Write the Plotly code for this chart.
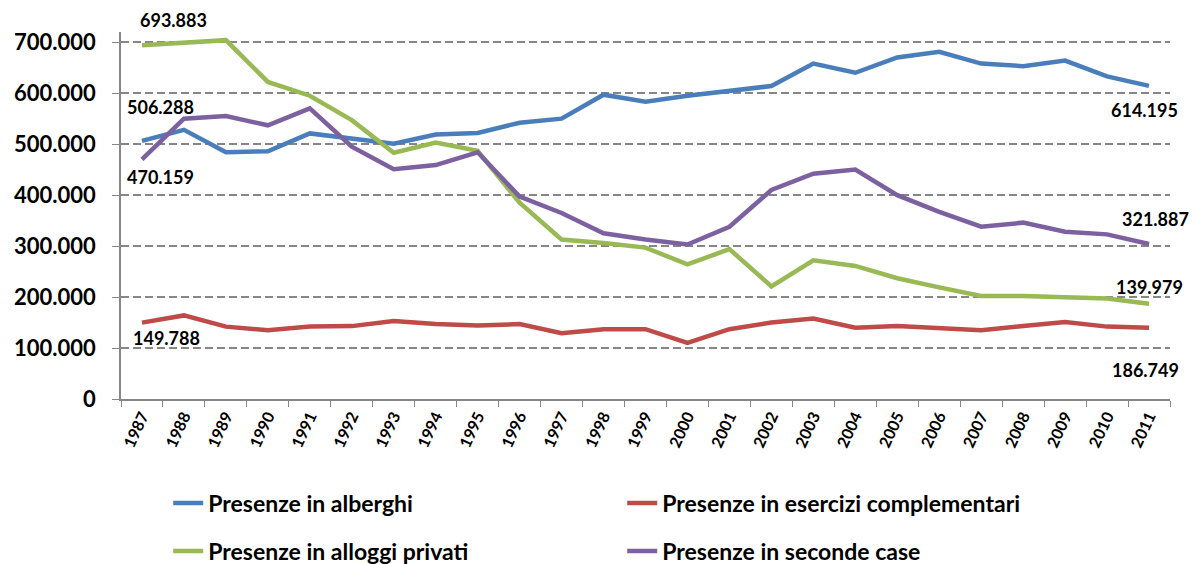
import plotly.graph_objects as go

years = [str(y) for y in range(1987, 2012)]

alberghi = [506288, 528000, 484000, 486000, 521000, 511000, 501000, 519000, 522000, 542000,
            550000, 597000, 583000, 595000, 605000, 614000, 658000, 640000, 670000, 681000,
            658000, 653000, 664000, 633000, 614195]
esercizi = [149788, 164000, 142000, 135000, 142000, 143000, 153000, 147000, 144000, 147000,
            129000, 137000, 137000, 110000, 137000, 150000, 158000, 140000, 143000, 140000,
            135000, 143000, 151000, 142000, 139979]
alloggi = [693883, 699000, 704000, 622000, 595000, 547000, 483000, 503000, 487000, 385000,
           313000, 306000, 297000, 264000, 294000, 221000, 272000, 261000, 237000, 219000,
           202000, 202000, 200000, 197000, 186749]
seconde = [470159, 550000, 555000, 537000, 570000, 495000, 451000, 459000, 484000, 397000,
           365000, 325000, 313000, 303000, 338000, 410000, 442000, 450000, 400000, 367000,
           338000, 346000, 328000, 323000, 304000]

series_names = ["Presenze in alberghi", "Presenze in esercizi complementari",
                "Presenze in alloggi privati", "Presenze in seconde case"]

y_tickvals = [0, 100000, 200000, 300000, 400000, 500000, 600000, 700000]
y_ticktext = ["0", "100.000", "200.000", "300.000", "400.000", "500.000", "600.000", "700.000"]

# data labels: (text, series index, point index)
label_texts = ["693.883", "506.288", "470.159", "149.788", "614.195", "321.887", "139.979", "186.749"]
label_series = [2, 0, 3, 1, 0, 3, 2, 1]
label_points = [0, 0, 0, 0, 24, 24, 24, 24]

colors = ["#4A7EBB", "#BE4B48", "#98B954", "#7D60A0"]
FONT = "Lato"

data = [alberghi, esercizi, alloggi, seconde]
legends = ["legend", "legend", "legend2", "legend2"]

fig = go.Figure()
for i in range(4):
    fig.add_trace(go.Scatter(
        x=years, y=data[i], mode="lines", name=series_names[i],
        line=dict(color=colors[i], width=4.5), legend=legends[i],
        hoverinfo="x+y+name"))

# label offsets (style)
offsets = [(32, 25), (19, 34), (19, -18), (25, -15), (-5, -24), (6, 25), (0, 17), (-4, -42)]
for t, s, p, (dx, dy) in zip(label_texts, label_series, label_points, offsets):
    fig.add_annotation(x=p, y=data[s][p], text=t, showarrow=False,
                       xref="x", yref="y",
                       xshift=dx, yshift=dy,
                       font=dict(family=FONT, size=18, color="black", weight="bold"))

legend_common = dict(orientation="h", xanchor="left", yanchor="middle", yref="container",
                     entrywidth=409, entrywidthmode="pixels",
                     font=dict(family=FONT, size=23, color="black", weight="bold"),
                     bgcolor="rgba(0,0,0,0)")

fig.update_layout(
    width=1192, height=564,
    margin=dict(l=121, r=22, t=32, b=165, autoexpand=False),
    plot_bgcolor="white", paper_bgcolor="white",
    showlegend=True,
    legend=dict(x=0.045, y=0.108, **legend_common),
    legend2=dict(x=0.045, y=0.023, **legend_common),
    xaxis=dict(type="category", tickson="boundaries", ticks="outside", ticklen=6,
               tickcolor="#868686", showline=True, linecolor="#868686", linewidth=1.5,
               showgrid=False, tickangle=-65, range=[-0.5, 24.5],
               tickfont=dict(family=FONT, size=16, color="black", weight="bold")),
    yaxis=dict(range=[0, 720000], tickvals=y_tickvals, ticktext=y_ticktext,
               ticks="outside", ticklen=7, tickcolor="#868686", ticklabelstandoff=12,
               showline=True, linecolor="#868686", linewidth=1.5,
               showgrid=True, gridcolor="#868686", gridwidth=1.5, griddash="8px,4px",
               zeroline=False,
               tickfont=dict(family=FONT, size=22, color="black", weight="bold")),
)

fig.write_html("out.html", config={"displayModeBar": False},
               post_script="document.body.style.margin='0';document.body.style.overflow='hidden';")
